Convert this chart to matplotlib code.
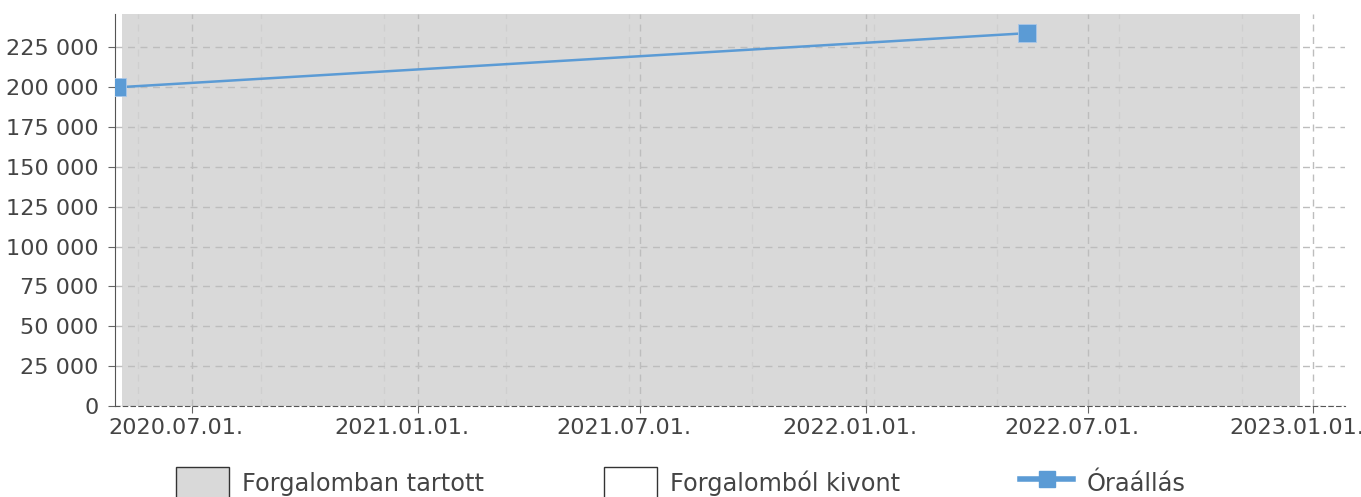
import matplotlib
matplotlib.use("Agg")
import matplotlib.pyplot as plt
import matplotlib.dates as mdates
import matplotlib.ticker as mticker
import matplotlib.transforms as mtrans
from matplotlib.patches import Patch
from matplotlib.lines import Line2D
import numpy as np

# data
dates = np.array(["2020-05-01", "2022-05-13"], dtype="datetime64[D]")
meter = [200000, 234000]
span_start = np.datetime64("2020-05-05")
span_end = np.datetime64("2022-12-21")
tick_dates = np.array(["2020-07-01", "2021-01-01", "2021-07-01", "2022-01-01",
                       "2022-07-01", "2023-01-01"], dtype="datetime64[D]")
legend_labels = ["Forgalomban tartott", "Forgalomból kivont", "Óraállás"]

blue = "#5b9bd5"
text_col = "#444444"

fig = plt.figure(figsize=(13.61, 4.97), dpi=100)
ax = fig.add_axes([0.0845, 0.1831, 0.9038, 0.7887])

ax.axvspan(span_start, span_end, color="#d9d9d9", lw=0, zorder=0)
ax.plot(dates, meter, color=blue, lw=1.8, marker="s", markersize=12.5,
        markeredgecolor="#a9c7e8", markeredgewidth=0.6, zorder=3)

ax.set_xlim(np.datetime64("2020-04-29"), np.datetime64("2023-01-27"))
ax.set_ylim(0, 246000)

ax.set_xticks(tick_dates)
ax.xaxis.set_major_formatter(mdates.DateFormatter("%Y.%m.%d."))
ax.xaxis.set_minor_locator(mticker.MultipleLocator(100))
ax.yaxis.set_major_locator(mticker.MultipleLocator(25000))
ax.yaxis.set_major_formatter(mticker.FuncFormatter(lambda v, p: f"{int(v):,}".replace(",", " ")))

ax.grid(True, which="major", axis="both", color="#bdbdbd", ls=(0, (5, 4)), lw=1)
ax.grid(True, which="minor", axis="x", color="#cfcfcf", ls=(0, (5, 4)), lw=1)

for s in ["top", "right"]:
    ax.spines[s].set_visible(False)
ax.spines["left"].set_color("#555555")
ax.spines["bottom"].set_color("#555555")
ax.spines["bottom"].set_linestyle((0, (4, 3)))

ax.tick_params(axis="both", which="major", labelsize=16.1, labelcolor=text_col,
               color="#666666", length=5)
ax.tick_params(axis="y", which="major", pad=7)
ax.tick_params(axis="x", which="minor", length=0)

# date labels sit a little left of their ticks in the original
fig.canvas.draw()
shift = mtrans.ScaledTranslation(-16 / 100, 0, fig.dpi_scale_trans)
for t in ax.xaxis.get_major_ticks():
    t.label1.set_transform(t.label1.get_transform() + shift)

handles = [
    Patch(facecolor="#d9d9d9", edgecolor="#333333", lw=1),
    Patch(facecolor="white", edgecolor="#333333", lw=1),
    Line2D([], [], color=blue, lw=4, marker="s", markersize=12),
]
fig.legend(handles, legend_labels, loc="upper center", bbox_to_anchor=(0.5, 0.06),
           ncol=3, frameon=False, fontsize=17.3, labelcolor=text_col,
           handlelength=2.2, handleheight=1.65, columnspacing=5.0, handletextpad=0.55,
           borderaxespad=0, borderpad=0)

fig.savefig("out.png", dpi=100)
